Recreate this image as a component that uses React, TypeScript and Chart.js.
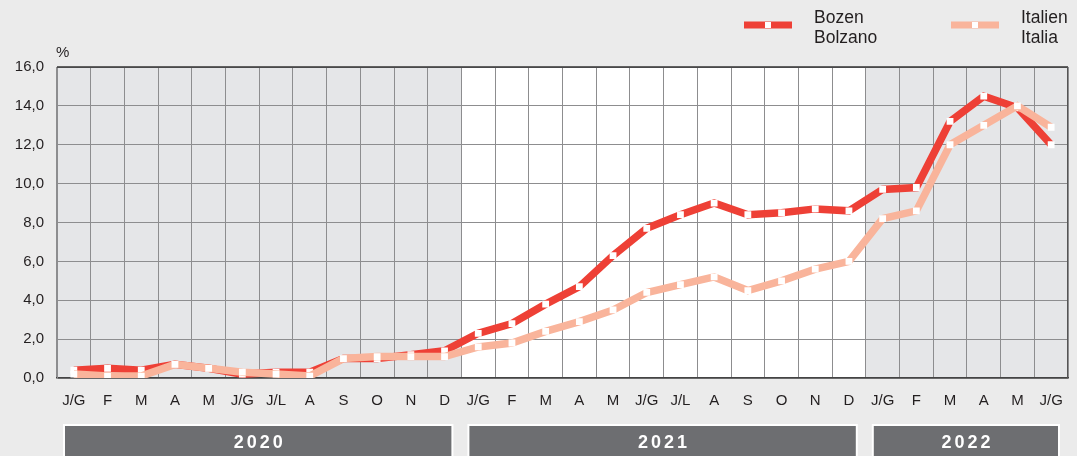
import React, { useEffect, useRef } from "react";
import { Chart, registerables } from "chart.js";

Chart.register(...registerables);

const categories = [
  "J/G", "F", "M", "A", "M", "J/G", "J/L", "A", "S", "O", "N", "D",
  "J/G", "F", "M", "A", "M", "J/G", "J/L", "A", "S", "O", "N", "D",
  "J/G", "F", "M", "A", "M", "J/G",
];

const bozen = [
  0.4, 0.5, 0.4, 0.7, 0.5, 0.2, 0.3, 0.3, 1.0, 1.0, 1.2, 1.4,
  2.3, 2.8, 3.8, 4.7, 6.3, 7.7, 8.4, 9.0, 8.4, 8.5, 8.7, 8.6,
  9.7, 9.8, 13.2, 14.5, 13.9, 12.0,
];

const italy = [
  0.2, 0.1, 0.1, 0.7, 0.5, 0.3, 0.2, 0.1, 1.0, 1.1, 1.1, 1.1,
  1.6, 1.8, 2.4, 2.9, 3.5, 4.4, 4.8, 5.2, 4.5, 5.0, 5.6, 6.0,
  8.2, 8.6, 12.0, 13.0, 14.0, 12.9,
];

const years = ["2020", "2021", "2022"];
const monthsPerYear = [12, 12, 6];

const bozenLabel = ["Bozen", "Bolzano"];
const italyLabel = ["Italien", "Italia"];

const RED = "#ee4036";
const PINK = "#f9b49b";
const FONT = "'Liberation Sans', Arial, sans-serif";
const TEXT = "#231f20";
const GRID = "#8d8d8f";

const decorPlugin = {
  id: "decor",
  beforeDraw(chart: any) {
    const { ctx, chartArea, scales } = chart;
    const x = scales.x;
    const half = (x.getPixelForValue(1) - x.getPixelForValue(0)) / 2;
    ctx.save();
    ctx.fillStyle = "#ebebeb";
    ctx.fillRect(0, 0, chart.width, chart.height);
    let start = 0;
    monthsPerYear.forEach((n, i) => {
      const l = x.getPixelForValue(start) - half;
      const r = x.getPixelForValue(start + n - 1) + half;
      ctx.fillStyle = i === 1 ? "#ffffff" : "#e5e6e8";
      ctx.fillRect(l, chartArea.top, r - l, chartArea.bottom - chartArea.top);
      start += n;
    });
    ctx.restore();
  },
  afterDraw(chart: any) {
    const { ctx, chartArea, scales } = chart;
    const x = scales.x;
    const half = (x.getPixelForValue(1) - x.getPixelForValue(0)) / 2;
    ctx.save();
    ctx.strokeStyle = "#333333";
    ctx.lineWidth = 1.5;
    ctx.beginPath();
    ctx.moveTo(chartArea.left, chartArea.top);
    ctx.lineTo(chartArea.right, chartArea.top);
    ctx.stroke();
    ctx.strokeStyle = "#555555";
    ctx.lineWidth = 1;
    ctx.beginPath();
    ctx.moveTo(chartArea.right - 0.5, chartArea.top);
    ctx.lineTo(chartArea.right - 0.5, chartArea.bottom);
    ctx.stroke();

    ctx.fillStyle = TEXT;
    ctx.font = `15px ${FONT}`;
    ctx.textAlign = "left";
    ctx.textBaseline = "alphabetic";
    ctx.fillText("%", chartArea.left - 1, 57);

    let start = 0;
    monthsPerYear.forEach((n, i) => {
      const l = x.getPixelForValue(start) - half + 7;
      const r = x.getPixelForValue(start + n - 1) + half - 9;
      const top = 425;
      ctx.fillStyle = "#6d6e71";
      ctx.fillRect(l, top, r - l, chart.height - top + 5);
      ctx.strokeStyle = "#ffffff";
      ctx.lineWidth = 2;
      ctx.strokeRect(l, top, r - l, chart.height - top + 5);
      ctx.fillStyle = "#ffffff";
      ctx.font = `bold 18px ${FONT}`;
      (ctx as any).letterSpacing = "3px";
      ctx.textAlign = "center";
      ctx.textBaseline = "middle";
      ctx.fillText(years[i], (l + r) / 2 + 1.5, 443);
      (ctx as any).letterSpacing = "0px";
      start += n;
    });

    const drawItem = (x0: number, color: string, lines: string[]) => {
      ctx.strokeStyle = color;
      ctx.lineWidth = 7;
      ctx.lineCap = "butt";
      ctx.beginPath();
      ctx.moveTo(x0, 25);
      ctx.lineTo(x0 + 48, 25);
      ctx.stroke();
      ctx.fillStyle = "#ffffff";
      ctx.fillRect(x0 + 21, 22, 6, 6);
      ctx.fillStyle = TEXT;
      ctx.font = `17.5px ${FONT}`;
      ctx.textAlign = "left";
      ctx.textBaseline = "alphabetic";
      lines.forEach((t, k) => ctx.fillText(t, x0 + 70, 23 + k * 20));
    };
    drawItem(744, RED, bozenLabel);
    drawItem(951, PINK, italyLabel);
    ctx.restore();
  },
};

export default function App() {
  const ref = useRef<HTMLCanvasElement>(null);
  useEffect(() => {
    document.body.style.margin = "0";
    const chart = new Chart(ref.current!, {
      type: "line",
      data: {
        labels: categories,
        datasets: [
          {
            label: bozenLabel.join(" "),
            data: bozen,
            borderColor: RED,
            backgroundColor: "#ffffff",
            borderWidth: 7.5,
            pointStyle: "rect",
            pointRadius: 4.8,
            pointBorderWidth: 0,
            pointBackgroundColor: "#ffffff",
            tension: 0,
            order: 2,
          },
          {
            label: italyLabel.join(" "),
            data: italy,
            borderColor: PINK,
            backgroundColor: "#ffffff",
            borderWidth: 7.5,
            pointStyle: "rect",
            pointRadius: 4.8,
            pointBorderWidth: 0,
            pointBackgroundColor: "#ffffff",
            tension: 0,
            order: 1,
          },
        ],
      },
      options: {
        animation: false,
        responsive: true,
        maintainAspectRatio: false,
        layout: { padding: { top: 67, right: 9, left: 0, bottom: 0 } },
        plugins: { legend: { display: false }, tooltip: { enabled: false } },
        scales: {
          x: {
            offset: true,
            grid: { offset: true, color: GRID, drawTicks: false, lineWidth: 1 },
            border: { color: "#444444", width: 1.5 },
            ticks: {
              color: TEXT,
              font: { family: FONT, size: 15 },
              padding: 14,
              maxRotation: 0,
              autoSkip: false,
            },
            afterFit: (s: any) => {
              s.height = 78;
            },
          },
          y: {
            min: 0,
            max: 16,
            grid: { color: GRID, drawTicks: false, lineWidth: 1 },
            border: { color: GRID, width: 1 },
            ticks: {
              stepSize: 2,
              color: TEXT,
              font: { family: FONT, size: 15 },
              padding: 13,
              callback: (v: any) => Number(v).toFixed(1).replace(".", ","),
            },
            afterFit: (s: any) => {
              s.width = 57;
            },
          },
        },
      },
      plugins: [decorPlugin],
    });
    return () => chart.destroy();
  }, []);
  return (
    <div style={{ position: "relative", width: 1077, height: 456 }}>
      <canvas ref={ref} />
    </div>
  );
}
